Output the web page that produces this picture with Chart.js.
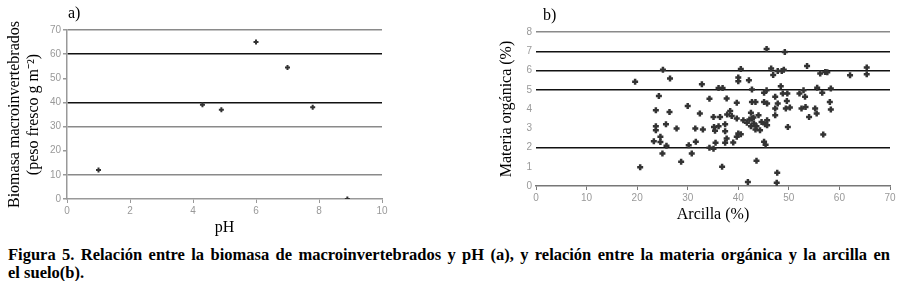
<!DOCTYPE html>
<html>
<head>
<meta charset="utf-8">
<script src="https://cdn.jsdelivr.net/npm/chart.js@4.4.1/dist/chart.umd.min.js"></script>
<style>
  body { margin: 0; background: #fff; width: 903px; height: 281px; position: relative; overflow: hidden; }
  .box { position: absolute; top: 0; height: 240px; }
  .tag { position: absolute; font: 16px "Liberation Serif", serif; color: #000; }
  .cap { position: absolute; left: 8px; width: 882px; font: bold 16.5px/18px "Liberation Serif", serif; color: #000; white-space: nowrap; }
</style>
</head>
<body>
<div class="box" style="left:0;width:400px"><canvas id="chartA"></canvas></div>
<div class="box" style="left:480px;width:423px"><canvas id="chartB"></canvas></div>
<div class="tag" style="left:68px;top:4px">a)</div>
<div class="tag" style="left:543px;top:6px">b)</div>
<div class="cap" style="top:246px;text-align:justify;text-align-last:justify">Figura 5. Relación entre la biomasa de macroinvertebrados y pH (a), y relación entre la materia orgánica y la arcilla en</div>
<div class="cap" style="top:264px">el suelo(b).</div>
<script>
// a) biomasa vs pH
const phValues = [1.0, 4.3, 4.9, 6.0, 7.0, 7.8, 8.9];
const biomasaValues = [12, 39, 37, 65, 54.5, 38, 0];

// b) materia organica vs arcilla
const arcillaValues = [
  19.6, 20.6, 24.3, 23.7, 23.7, 23.7, 23.3, 24.6, 24.6, 25.0,
  25.1, 25.7, 25.8, 26.5, 26.4, 27.8, 28.7, 30.0, 30.2, 30.8,
  31.5, 31.6, 32.4, 32.8, 33.0, 34.3, 34.3, 35.1, 35.1, 35.2,
  35.4, 35.5, 36.1, 36.9, 36.4, 36.1, 36.8, 37.4, 37.4, 37.4,
  37.7, 37.7, 37.8, 38.4, 38.7, 39.7, 39.7, 39.7, 40.0, 40.0,
  40.5, 40.5, 42.1, 41.7, 42.2, 42.7, 42.7, 42.5, 42.5, 43.0,
  43.1, 43.4, 43.6, 43.6, 44.0, 41.9, 44.6, 45.1, 45.1, 45.3,
  45.1, 45.4, 45.6, 45.6, 45.7, 45.7, 45.7, 46.5, 46.9, 47.3,
  47.3, 47.3, 47.7, 47.6, 47.8, 47.8, 48.4, 48.6, 49.0, 49.2,
  48.8, 49.4, 49.6, 49.7, 49.8, 50.2, 52.1, 52.5, 52.9, 53.3,
  53.2, 53.6, 54.0, 55.2, 55.5, 55.6, 56.2, 56.6, 56.8, 57.2,
  57.6, 58.3, 58.1, 58.3, 62.1, 65.4, 65.4, 41.0, 42.7, 44.3,
  39.0, 40.0, 43.4
];
const materiaValues = [
  5.41, 0.97, 4.68, 3.94, 3.11, 2.90, 2.33, 2.56, 2.28, 1.69,
  6.04, 3.21, 2.09, 5.58, 3.85, 2.99, 1.26, 4.15, 2.12, 1.69,
  2.99, 2.30, 3.77, 5.28, 2.94, 4.53, 1.99, 1.93, 3.59, 3.07,
  2.87, 2.25, 5.09, 5.09, 3.59, 3.11, 1.00, 3.21, 2.85, 2.25,
  4.54, 2.47, 3.71, 3.90, 3.63, 4.32, 3.51, 2.56, 5.63, 5.44,
  2.69, 6.08, 5.49, 3.28, 3.45, 5.01, 4.37, 3.80, 3.11, 3.56,
  3.25, 2.94, 1.31, 3.11, 3.68, 0.21, 3.33, 4.84, 4.37, 3.21,
  2.30, 2.14, 7.12, 4.97, 4.28, 3.42, 3.16, 6.10, 5.77, 4.63,
  4.02, 3.68, 0.69, 0.17, 5.98, 4.28, 5.18, 5.98, 6.04, 6.96,
  4.80, 4.02, 4.42, 4.80, 3.07, 4.08, 4.80, 4.02, 4.97, 4.11,
  4.63, 6.23, 3.59, 4.02, 3.77, 5.11, 5.84, 4.84, 2.68, 5.92,
  5.91, 5.06, 4.37, 3.97, 5.75, 6.15, 5.80, 3.42, 3.49, 2.90,
  2.26, 2.73, 4.37
];

const darkLinesA = [60, 40];
const greyLinesA = [70, 30, 10];
const darkLinesB = [7, 6, 5, 2];
const greyLinesB = [8];

const tickFont = { family: 'Liberation Sans', size: 10 };
const titleFont = { family: 'Liberation Serif', size: 16 };

function gridColor(dark, grey) {
  return function (ctx) {
    const v = ctx.tick.value;
    if (v === 0) return 'rgba(0,0,0,0)';
    if (dark.includes(v)) return '#111';
    if (grey.includes(v)) return '#8a8a8a';
    return 'rgba(0,0,0,0)';
  };
}

function toPoints(xs, ys) {
  return xs.map((x, i) => ({ x: x, y: ys[i] }));
}

const pointStyleOpts = {
  pointStyle: 'cross',
  pointRadius: 3,
  borderWidth: 2.5,
  borderColor: '#333',
  backgroundColor: '#333',
};

new Chart(document.getElementById('chartA'), {
  type: 'scatter',
  data: { datasets: [Object.assign({ data: toPoints(phValues, biomasaValues) }, pointStyleOpts, { pointRadius: 2.5, borderWidth: 2 })] },
  options: {
    responsive: true,
    maintainAspectRatio: false,
    animation: false,
    layout: { padding: { top: 30, right: 18, left: 0, bottom: 0 } },
    plugins: { legend: { display: false }, tooltip: { enabled: false } },
    scales: {
      x: {
        type: 'linear', min: 0, max: 10,
        afterFit: s => { s.height = 41; },
        ticks: { stepSize: 2, font: tickFont, color: '#999', padding: 2 },
        grid: { drawOnChartArea: false, drawTicks: true, tickLength: 4, color: '#999' },
        border: { color: '#999', width: 1.5 },
        title: { display: true, text: 'pH', font: titleFont, color: '#000', padding: { top: 0, bottom: 3 } },
      },
      y: {
        min: 0, max: 70,
        afterFit: s => { s.width = 67; },
        ticks: { stepSize: 10, font: tickFont, color: '#999', padding: 2 },
        grid: { color: gridColor(darkLinesA, greyLinesA), lineWidth: 1.5, tickColor: '#999', tickLength: 4 },
        border: { color: '#999', width: 1.5 },
        title: {
          display: true,
          text: ['Biomasa macroinvertebrados', '(peso fresco g m\u207B\u00B2)'],
          font: titleFont, color: '#000', padding: { top: 5, bottom: 0 },
        },
      },
    },
  },
});

new Chart(document.getElementById('chartB'), {
  type: 'scatter',
  data: { datasets: [Object.assign({ data: toPoints(arcillaValues, materiaValues) }, pointStyleOpts)] },
  options: {
    responsive: true,
    maintainAspectRatio: false,
    animation: false,
    layout: { padding: { top: 32, right: 13, left: 0, bottom: 0 } },
    plugins: { legend: { display: false }, tooltip: { enabled: false } },
    scales: {
      x: {
        type: 'linear', min: 0, max: 70,
        afterFit: s => { s.height = 54; },
        ticks: { stepSize: 10, font: tickFont, color: '#999', padding: 2 },
        grid: { drawOnChartArea: false, drawTicks: true, tickLength: 4, color: '#777' },
        border: { color: '#777', width: 1.5 },
        title: { display: true, text: 'Arcilla (%)', font: titleFont, color: '#000', padding: { top: 0, bottom: 16 } },
      },
      y: {
        min: 0, max: 8,
        afterFit: s => { s.width = 56; },
        ticks: { stepSize: 1, font: tickFont, color: '#999', padding: 4 },
        grid: { color: gridColor(darkLinesB, greyLinesB), lineWidth: 1.5, drawTicks: false },
        border: { display: false },
        title: {
          display: true, text: 'Materia orgánica (%)',
          font: titleFont, color: '#000', padding: { top: 17, bottom: 0 },
        },
      },
    },
  },
});
</script>
</body>
</html>
